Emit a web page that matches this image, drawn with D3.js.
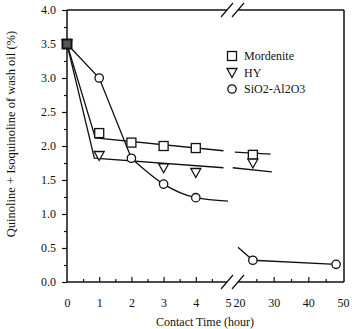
<!DOCTYPE html>
<html>
<head>
<meta charset="utf-8">
<script src="https://cdn.jsdelivr.net/npm/d3@7"></script>
<style>
  body { margin: 0; background: #fff; }
  svg { font-family: "Liberation Serif", "Times New Roman", serif; }
</style>
</head>
<body>
<svg id="chart" width="352" height="329"></svg>
<script>
// values
var mordeniteT = [0, 1, 2, 3, 4, 24];
var mordeniteV = [3.5, 2.19, 2.05, 2.0, 1.97, 1.87];
var hyT = [0, 1, 3, 4, 24];
var hyV = [3.5, 1.86, 1.68, 1.61, 1.75];
var sio2T = [0, 1, 2, 3, 4, 24, 48];
var sio2V = [3.5, 3.0, 1.82, 1.44, 1.24, 0.32, 0.26];

// hand drawn fit lines (time, value)
var mordeniteFit1 = [[0, 3.5], [0.88, 2.12], [4.86, 1.93]];
var mordeniteFit2 = [[18.8, 1.91], [29.1, 1.88]];
var hyFit1 = [[0, 3.5], [0.85, 1.82], [4.86, 1.68]];
var hyFit2 = [[18.2, 1.68], [29.5, 1.62]];
var sio2Fit1 = [[0, 3.5], [1, 3.0], [2, 1.82]];
var sio2Curve = [[2, 1.82], [3, 1.44], [4, 1.24], [5, 1.19]];
var sio2Fit2 = [[19.7, 0.51], [24, 0.32], [48, 0.26]];

var legendNames = ["Mordenite", "HY", "SiO2-Al2O3"];
var xLabels1 = [0, 1, 2, 3, 4, 5];
var xLabels2 = [20, 30, 40, 50];
var yLabels = [0, 0.5, 1.0, 1.5, 2.0, 2.5, 3.0, 3.5, 4.0];

var svg = d3.select("#chart");

/*** Scales: broken x axis, two pieces ***/
var x1 = d3.scaleLinear().domain([0, 5]).range([67, 228]);
var x2 = d3.scaleLinear().domain([20, 50]).range([239, 343]);
var xPos = function (t) { return t <= 10 ? x1(t) : x2(t); };
var y = d3.scaleLinear().domain([0, 4]).range([282, 10]);

/*** Y axis ***/
var yAxis = d3.axisLeft(y)
  .tickValues(yLabels)
  .tickSize(5)
  .tickPadding(6)
  .tickFormat(d3.format(".1f"));
var gy = svg.append("g").attr("transform", "translate(67,0)").call(yAxis);
gy.select(".domain").remove();

var yMinor = d3.axisLeft(y)
  .tickValues(d3.range(0.25, 4, 0.5))
  .tickSize(3)
  .tickFormat("");
var gym = svg.append("g").attr("transform", "translate(67,0)").call(yMinor);
gym.select(".domain").remove();

/*** X axis: labels and inward ticks ***/
function xAxisPart(scale, labels, major, minor) {
  var g1 = svg.append("g").attr("transform", "translate(0,282)")
    .call(d3.axisBottom(scale).tickValues(labels).tickSize(0).tickPadding(16).tickFormat(d3.format("d")));
  g1.select(".domain").remove();
  var g2 = svg.append("g").attr("transform", "translate(0,282)")
    .call(d3.axisBottom(scale).tickValues(major).tickSize(-5).tickFormat(""));
  g2.select(".domain").remove();
  var g3 = svg.append("g").attr("transform", "translate(0,282)")
    .call(d3.axisBottom(scale).tickValues(minor).tickSize(-3).tickFormat(""));
  g3.select(".domain").remove();
}
xAxisPart(x1, xLabels1, [1, 2, 3, 4], [0.5, 1.5, 2.5, 3.5, 4.5]);
xAxisPart(x2, xLabels2, [30, 40], [25, 35, 45]);

svg.selectAll(".tick text").attr("font-size", 12).attr("font-family", "Liberation Serif, serif").attr("fill", "#111");
svg.selectAll(".tick line").attr("stroke", "#111").attr("stroke-width", 1.2);

/*** Frame with breaks ***/
var frame = svg.append("g").attr("stroke", "#111").attr("stroke-width", 1.5).attr("fill", "none");
var bx1 = x1(5) - 1, bx2 = x2(20) - 1;
[y(0), y(4)].forEach(function (yy) {
  frame.append("line").attr("x1", x1(0)).attr("x2", bx1).attr("y1", yy).attr("y2", yy);
  frame.append("line").attr("x1", bx2).attr("x2", x2(50) + 1).attr("y1", yy).attr("y2", yy);
  [bx1, bx2].forEach(function (bx) {
    frame.append("line")
      .attr("x1", bx - 6).attr("y1", yy + 7)
      .attr("x2", bx + 6).attr("y2", yy - 7)
      .attr("stroke-width", 1.2);
  });
});
frame.append("line").attr("x1", x1(0)).attr("x2", x1(0)).attr("y1", y(0)).attr("y2", y(4));
frame.append("line").attr("x1", x2(50) + 1).attr("x2", x2(50) + 1).attr("y1", y(0)).attr("y2", y(4));

/*** Lines ***/
var line = d3.line().x(function (d) { return xPos(d[0]); }).y(function (d) { return y(d[1]); });
var curve = d3.line().curve(d3.curveMonotoneX).x(function (d) { return xPos(d[0]); }).y(function (d) { return y(d[1]); });

var lines = svg.append("g").attr("stroke", "#111").attr("stroke-width", 1.3).attr("fill", "none");
[mordeniteFit1, mordeniteFit2, hyFit1, hyFit2, sio2Fit1, sio2Fit2].forEach(function (pts) {
  lines.append("path").attr("d", line(pts));
});
lines.append("path").attr("d", curve(sio2Curve));

/*** Markers ***/
function square(g, cx, cy) {
  g.append("rect").attr("x", cx - 4.5).attr("y", cy - 4.5).attr("width", 9).attr("height", 9);
}
function triangle(g, cx, cy) {
  g.append("path").attr("d", "M" + (cx - 5) + "," + (cy - 4) + "L" + (cx + 5) + "," + (cy - 4) + "L" + cx + "," + (cy + 5) + "Z");
}
function circle(g, cx, cy) {
  g.append("circle").attr("cx", cx).attr("cy", cy).attr("r", 4.2);
}

var marks = svg.append("g").attr("stroke", "#111").attr("stroke-width", 1.3).attr("fill", "#fff");
mordeniteT.forEach(function (t, i) { square(marks, xPos(t), y(mordeniteV[i])); });
hyT.forEach(function (t, i) { triangle(marks, xPos(t), y(hyV[i])); });
sio2T.forEach(function (t, i) { circle(marks, xPos(t), y(sio2V[i])); });
// at t=0 the three symbols overlap into a dark square
marks.append("rect").attr("x", xPos(0) - 4.5).attr("y", y(3.5) - 4.5).attr("width", 9).attr("height", 9)
  .attr("fill", "#555").attr("stroke-width", 1.8);

/*** Legend ***/
var legend = svg.append("g").attr("stroke", "#111").attr("stroke-width", 1.3).attr("fill", "#fff");
var shapes = [square, triangle, circle];
legendNames.forEach(function (name, i) {
  var ly = 56 + i * 16.5;
  shapes[i](legend, 232, ly);
  svg.append("text").attr("x", 244).attr("y", ly + 4)
    .attr("font-size", 12).attr("fill", "#111").text(name);
});

/*** Axis titles ***/
svg.append("text").attr("x", 205).attr("y", 326).attr("text-anchor", "middle")
  .attr("font-size", 12).attr("fill", "#111").text("Contact Time (hour)");
svg.append("text").attr("transform", "translate(15,134) rotate(-90)").attr("text-anchor", "middle")
  .attr("font-size", 12.5).attr("fill", "#111").text("Quinoline + Isoquinoline of wash oil (%)");
</script>
</body>
</html>
